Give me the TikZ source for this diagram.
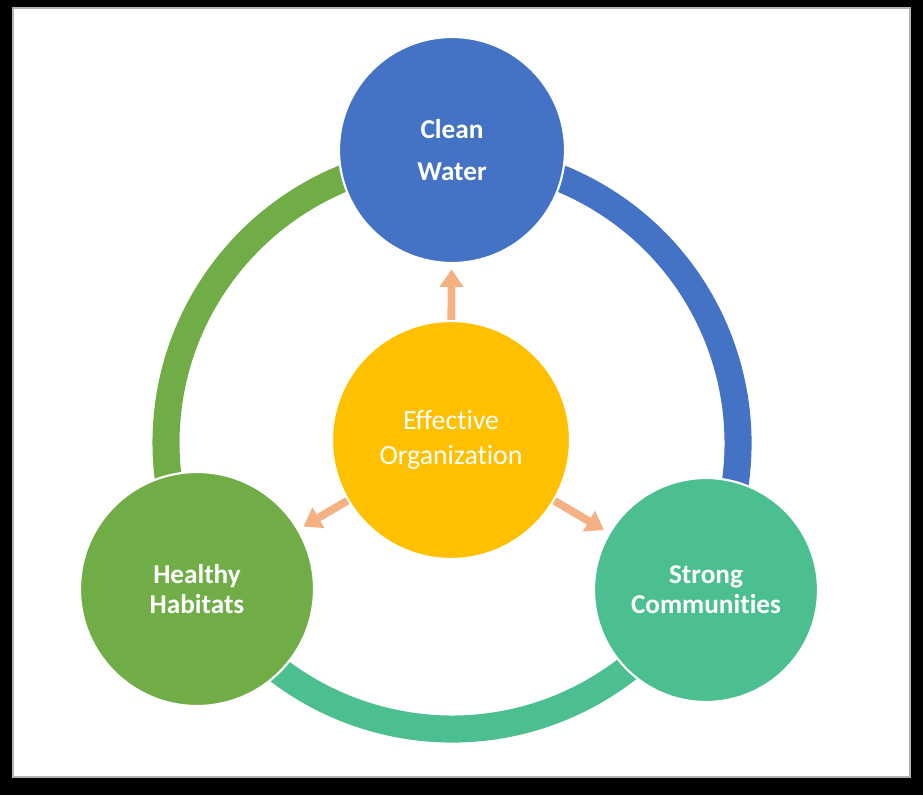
\documentclass[tikz,border=0pt]{standalone}
\usepackage{fontspec}
\setmainfont[Ligatures={NoCommon,NoDiscretionary,NoContextual}]{Carlito}
\usetikzlibrary{arrows.meta}
\definecolor{waterblue}{HTML}{4472C4}
\definecolor{orgyellow}{HTML}{FFC000}
\definecolor{habitatgreen}{HTML}{70AD47}
\definecolor{communityteal}{HTML}{4BBF90}
\definecolor{arrowpeach}{HTML}{F4B183}
\tikzset{
  bubble/.style={circle, draw=white, line width=1.2pt, text=white, align=center,
    inner sep=0pt, font=\bfseries\fontsize{15.5}{17}\selectfont},
  ringpart/.style={line width=15.4pt},
  push/.style={draw=arrowpeach, line width=4.5pt,
    -{Triangle[width=13pt,length=10pt]}, shorten >=3pt}
}

\begin{document}
\begin{tikzpicture}[x=0.02cm,y=0.02cm]
    % frame
    \fill[black] (0,0) rectangle (923,795);
    \draw[fill=white, draw=gray!60, line width=1pt] (13,18) rectangle (910,787);
    % ring
    \draw[ringpart, habitatgreen] (452,352) ++(90:286) arc[start angle=90, end angle=210, radius=286];
    \draw[ringpart, waterblue] (452,352) ++(-30:286) arc[start angle=-30, end angle=90, radius=286];
    \draw[ringpart, communityteal] (452,352) ++(210:286) arc[start angle=210, end angle=330, radius=286];
    % circles
    \node[bubble, fill=waterblue, minimum size=4.52cm, font=\bfseries\fontsize{15.5}{24}\selectfont] (water) at (452,645) {Clean\\Water};
    \node[bubble, fill=habitatgreen, minimum size=4.68cm] (habitat) at (197,206) {Healthy\\Habitats};
    \node[bubble, fill=communityteal, minimum size=4.48cm] (community) at (706,205) {Strong\\Communities};
    \node[bubble, fill=orgyellow, minimum size=4.76cm, font=\fontsize{15.8}{20}\selectfont] (org) at (451,355) {Effective\\Organization};
    % arrows
    \draw[push] (org) -- (water);
    \draw[push] (org) -- (habitat);
    \draw[push] (org) -- (community);
\end{tikzpicture}
\end{document}
